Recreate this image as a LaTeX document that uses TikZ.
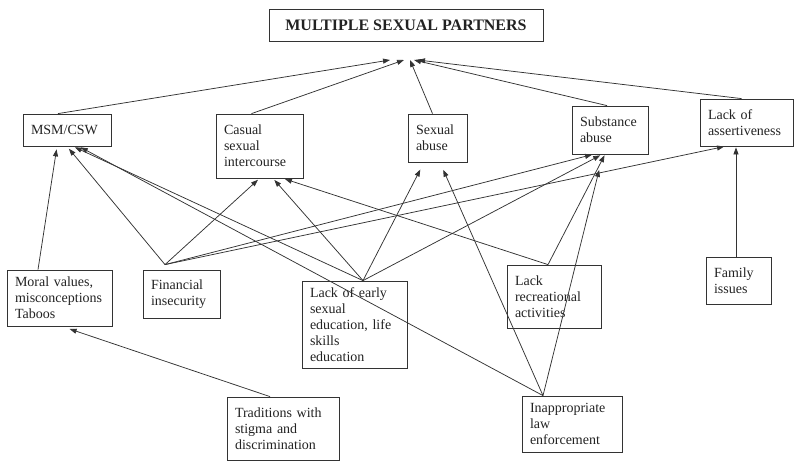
\documentclass[tikz,border=0pt]{standalone}
\usepackage{fontspec}
\setmainfont{Liberation Serif}
\usetikzlibrary{arrows.meta}
\definecolor{kLine}{HTML}{333333}
\definecolor{kText}{HTML}{222222}

\begin{document}
\begin{tikzpicture}[x=1pt, y=-1pt, >={Triangle[length=7pt,width=5pt]},
      font=\fontsize{14}{16}\selectfont, text=kText,
      cause/.style={draw=kLine, line width=0.8pt, rectangle, align=left, inner xsep=8pt, inner ysep=4pt},
      link/.style={->, draw=kLine, line width=0.75pt}]
      \useasboundingbox (0,0) rectangle (800,469);
      \node[cause, minimum width=274, minimum height=32, align=center,
            font=\fontsize{16}{18}\selectfont\bfseries] (msp) at (406,25) {MULTIPLE SEXUAL PARTNERS};
      % direct causes
      \node[cause, text width=72pt, minimum height=32] (msm) at (67,130) {MSM/CSW};
      \node[cause, text width=71pt, minimum height=64] (casual) at (259.5,146) {Casual\\ sexual\\ intercourse};
      \node[cause, text width=43pt, minimum height=48] (sexab) at (437.5,138) {Sexual\\ abuse};
      \node[cause, text width=60pt, minimum height=48] (subst) at (610,130) {Substance\\ abuse};
      \node[cause, text width=77pt, minimum height=47] (assert) at (746.5,122.5) {Lack of\\ assertiveness};
      % underlying causes
      \node[cause, text width=89pt, minimum height=56] (moral) at (59.5,298) {Moral values,\\ misconceptions\\ Taboos};
      \node[cause, text width=61pt, minimum height=48] (fin) at (181.5,294) {Financial\\ insecurity};
      \node[cause, text width=89pt, minimum height=87] (early) at (354.5,324.5) {Lack of early\\ sexual\\ education, life\\ skills\\ education};
      \node[cause, text width=78pt, minimum height=63] (recr) at (554,296.5) {Lack\\ recreational\\ activities};
      \node[cause, text width=49pt, minimum height=47] (family) at (738.5,280.5) {Family\\ issues};
      \node[cause, text width=96pt, minimum height=63] (trad) at (283,428.5) {Traditions with\\ stigma and\\ discrimination};
      \node[cause, text width=84pt, minimum height=56] (law) at (572,424) {Inappropriate\\ law\\ enforcement};
      \coordinate (hub) at (406,60);
      \draw[link] ([xshift=-9]msm.north) -- ([xshift=-16]hub);
      \draw[link] ([xshift=-8]casual.north) -- ([xshift=-2]hub);
      \draw[link] ([xshift=-5]sexab.north) -- ([xshift=4]hub);
      \draw[link] ([xshift=-3]subst.north) -- ([xshift=8]hub);
      \draw[link] ([xshift=-5]assert.north) -- ([xshift=12]hub);
      % into MSM/CSW
      \draw[link, shorten >=3pt] ([xshift=-21.5]moral.north) -- ([xshift=-10]msm.south);
      \draw[link, shorten >=3pt] ([xshift=-16.5,yshift=5]fin.north) -- (msm.south);
      \draw[link, shorten >=2pt] ([xshift=8.5]early.north) -- ([xshift=6]msm.south);
      \draw[link, shorten >=2pt] ([xshift=-29]law.north) -- ([xshift=12]msm.south);
      % into casual sex
      \draw[link, shorten >=2pt] ([xshift=-16.5,yshift=5]fin.north) -- (casual.south);
      \draw[link, shorten >=2pt] ([xshift=8.5]early.north) -- ([xshift=13.5]casual.south);
      \draw[link, shorten >=2pt] ([xshift=-6]recr.north) -- ([xshift=23.5]casual.south);
      % into sexual abuse
      \draw[link, shorten >=8pt] ([xshift=8.5]early.north) -- ([xshift=-13.5]sexab.south);
      \draw[link, shorten >=8pt] ([xshift=-29]law.north) -- ([xshift=2.5]sexab.south);
      % into substance abuse
      \draw[link, shorten >=1pt] ([xshift=-16.5,yshift=5]fin.north) -- ([xshift=-17]subst.south);
      \draw[link, shorten >=2pt] ([xshift=8.5]early.north) -- ([xshift=-8]subst.south);
      \draw[link, shorten >=1pt] ([xshift=-6]recr.north) -- ([xshift=-5]subst.south);
      \draw[link, shorten >=16pt] ([xshift=-29]law.north) -- ([xshift=-7]subst.south);
      % into assertiveness
      \draw[link, shorten >=1pt] ([xshift=-16.5,yshift=5]fin.north) -- ([xshift=-21.5]assert.south);
      \draw[link, shorten >=1pt] ([xshift=-2.5]family.north) -- ([xshift=-10.5]assert.south);
      \draw[link, shorten >=8pt] ([xshift=-13]trad.north) -- ([xshift=2.5]moral.south);
    \end{tikzpicture}
\end{document}
